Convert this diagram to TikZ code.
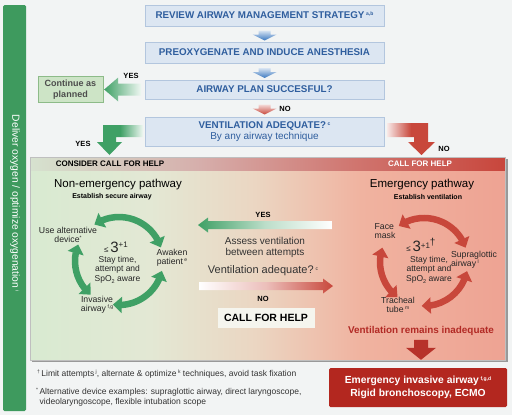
\documentclass[tikz,border=0pt]{standalone}
\usepackage{fontspec}
\setmainfont{Liberation Sans}
\usetikzlibrary{arrows.meta,bending,calc}
\newcommand\fz[2]{\fontsize{#1}{#2}\selectfont}
\newcommand\fsup[1]{\raisebox{0.6ex}{\fz{5}{5}#1}}
\newcommand\sbtwo{\raisebox{-0.45ex}{\fz{5.5}{5}2}}
\definecolor{bgc}{HTML}{F2F4F4}
\definecolor{boxfill}{HTML}{DCE6F2}
\definecolor{boxdraw}{HTML}{B3C6DE}
\definecolor{boxtext}{HTML}{2F5E9E}
\definecolor{barg}{HTML}{3E9A5E}
\definecolor{contfill}{HTML}{CDE4C6}
\definecolor{contdraw}{HTML}{8DBB88}
\definecolor{conttext}{HTML}{4D4D4D}
\definecolor{gArr}{HTML}{3FA065}
\definecolor{rArr}{HTML}{C8473B}
\definecolor{chevB}{HTML}{3A78C0}
\definecolor{emerg}{HTML}{B3271F}
\definecolor{txtd}{HTML}{333333}
\definecolor{lbltxt}{HTML}{262626}
\definecolor{redtxt}{HTML}{B22A25}
\definecolor{pg1}{HTML}{D8EAD1}
\definecolor{pg2}{HTML}{E3E8D4}
\definecolor{pg3}{HTML}{EBD6C2}
\definecolor{pg4}{HTML}{F0B3A0}
\definecolor{pg5}{HTML}{EEA393}
\definecolor{hd1}{HTML}{D6E2CF}
\definecolor{hd3}{HTML}{D6AEAB}
\definecolor{hd4}{HTML}{D07670}
\definecolor{hd5}{HTML}{C8463C}
\definecolor{cfhfill}{HTML}{F5F5EE}
\begin{document}
\begin{tikzpicture}[x=1pt,y=-1pt,
  topbox/.style={draw=boxdraw, fill=boxfill, minimum width=239, minimum height=21,
    inner sep=0pt, font=\fz{9.8}{11}\bfseries, text=boxtext},
  lbl/.style={inner sep=0pt, align=center, font=\fz{8.7}{8.7}, text=lbltxt},
  yesno/.style={inner sep=0pt, font=\fz{7.5}{8}\bfseries, text=black},
  garc/.style={draw=gArr, line width=6.5pt, {Triangle[width=16pt,length=9pt]}-{Triangle[width=16pt,length=9pt]}},
  rarc/.style={draw=rArr, line width=6.5pt, {Triangle[width=16pt,length=9pt]}-{Triangle[width=16pt,length=9pt]}}
]
\useasboundingbox (0,0) rectangle (512,415);
\fill[bgc] (0,0) rectangle (512,415);

% left green bar
\fill[barg, rounded corners=1.5pt] (3,5) rectangle (26,411);
\node[rotate=-90, text=white, font=\fz{10.3}{12}, inner sep=0pt] (deliver) at (15,203) {Deliver oxygen / optimize oxygenation\,\fsup{i}};

% top boxes
\node[topbox] (rev) at (264.5,15.5) {REVIEW AIRWAY MANAGEMENT STRATEGY\,\fsup{a,b}};
\node[topbox] (pre) at (264.5,52.5) {PREOXYGENATE AND INDUCE ANESTHESIA};
\node[topbox, minimum height=19] (plan) at (264.5,89.5) {AIRWAY PLAN SUCCESFUL?};
\node[topbox, minimum height=29, align=center] (vent) at (264.5,131.5)
  {VENTILATION ADEQUATE?\,\fsup{c}\\[0.5pt]{\fz{10}{11}\mdseries By any airway technique}};
\node[draw=contdraw, fill=contfill, minimum width=65, minimum height=26, inner sep=0pt,
  align=center, font=\fz{9}{10.5}\bfseries, text=conttext] (cont) at (70.5,89.5) {Continue as\\planned};

% chevrons
\coordinate (c1) at ($(rev.south)!0.5!(pre.north)+(0,1.5)$);
\coordinate (c2) at ($(pre.south)!0.5!(plan.north)+(0,1.5)$);
\coordinate (c3) at ($(plan.south)!0.5!(vent.north)+(0,1.5)$);
\shade[top color=chevB!20, bottom color=chevB] ($(c1)+(-6,-5)$) -- ($(c1)+(6,-5)$) -- ($(c1)+(6,-1)$) -- ($(c1)+(12,-1)$) -- ($(c1)+(0,5)$) -- ($(c1)+(-12,-1)$) -- ($(c1)+(-6,-1)$) -- cycle;
\shade[top color=chevB!20, bottom color=chevB] ($(c2)+(-6,-5)$) -- ($(c2)+(6,-5)$) -- ($(c2)+(6,-1)$) -- ($(c2)+(12,-1)$) -- ($(c2)+(0,5)$) -- ($(c2)+(-12,-1)$) -- ($(c2)+(-6,-1)$) -- cycle;
\shade[top color=rArr!20, bottom color=rArr] ($(c3)+(-6,-5)$) -- ($(c3)+(6,-5)$) -- ($(c3)+(6,-1)$) -- ($(c3)+(12,-1)$) -- ($(c3)+(0,5)$) -- ($(c3)+(-12,-1)$) -- ($(c3)+(-6,-1)$) -- cycle;
\node[yesno] (no1) at (285,109) {NO};

% plan -> continue arrow
\coordinate (t1) at ($(cont.east)+(1,0)$);
\shade[left color=gArr, right color=gArr!8] (t1) -- ++(14,-12) -- ++(0,6) -- ++(23,0) -- ++(0,12) -- ++(-23,0) -- ++(0,6) -- cycle;
\node[yesno] (yes1) at (131,76) {YES};

% elbow arrows
\shade[left color=gArr, right color=gArr!8, middle color=gArr] (143,125) -- (103,125) -- (103,142) -- (97,142) -- (109.5,155) -- (122,142) -- (116,142) -- (116,137) -- (143,137) -- cycle;
\node[yesno] (yes2) at (83,144) {YES};
\shade[left color=rArr!12, right color=rArr, middle color=rArr] (387,123) -- (428,123) -- (428,142) -- (435,142) -- (421.5,155) -- (408,142) -- (414,142) -- (414,137) -- (387,137) -- cycle;
\node[yesno] (no2) at (444,149) {NO};

% panel
\fill[black!40] (32,159) rectangle (507.5,362);
\shade[left color=pg1, right color=pg2] (30,170) rectangle (150.5,360);
\shade[left color=pg2, right color=pg4, middle color=pg3] (150,170) rectangle (360.5,360);
\shade[left color=pg4, right color=pg5] (360,170) rectangle (505,360);
\shade[left color=hd1, right color=hd3] (30,157) rectangle (200.5,170);
\shade[left color=hd3, right color=hd5, middle color=hd4] (200,157) rectangle (505,170);
\draw[black!25, line width=0.6pt] (30,157) rectangle (505,360);
\node[font=\fz{8}{9}\bfseries, inner sep=0pt] (cch) at (110,164) {CONSIDER CALL FOR HELP};
\node[font=\fz{8}{9}\bfseries, text=white, inner sep=0pt] (cfhr) at (420,164) {CALL FOR HELP};

% non-emergency pathway
\node[font=\fz{11.5}{13}, inner sep=0pt] (net) at (118,185) {Non-emergency pathway};
\node[font=\fz{7}{8}\bfseries, inner sep=0pt] (nes) at (112,197) {Establish secure airway};
\coordinate (gc) at (119,261);
\draw[garc] (gc) ++(-124:44) arc[start angle=-124, end angle=-18, radius=44];
\draw[garc] (gc) ++(-158:44) arc[start angle=-158, end angle=-230, radius=44];
\draw[garc] (gc) ++(-262:44) arc[start angle=-262, end angle=-347, radius=44];
\node[lbl] (alt) at (68,235) {Use alternative\\device\fsup{*}};
\node[lbl] (awk) at (172,258) {Awaken\\patient\,\fsup{e}};
\node[lbl] (inv) at (97,305) {Invasive\\airway\,\fsup{f,g}};
\node[inner sep=0pt, text=lbltxt] (glim) at (116,247) {{\fz{8}{8}≤}\,{\fz{15}{15}3}\raisebox{5pt}{\fz{8}{8}+1}};
\node[lbl, font=\fz{8.5}{9.5}] (gst) at (117.5,269.5) {Stay time,\\attempt and\\SpO\sbtwo{} aware};

% emergency pathway
\node[font=\fz{11.5}{13}, inner sep=0pt] (emt) at (422,185) {Emergency pathway};
\node[font=\fz{7}{8}\bfseries, inner sep=0pt] (ems) at (428,197) {Establish ventilation};
\coordinate (rc) at (424,262);
\draw[rarc] (rc) ++(-125:44) arc[start angle=-125, end angle=-19, radius=44];
\draw[rarc] (rc) ++(-161:44) arc[start angle=-161, end angle=-233, radius=44];
\draw[rarc] (rc) ++(-267:44) arc[start angle=-267, end angle=-348, radius=44];
\node[lbl, align=left] (fm) at (385,231) {Face\\mask};
\node[lbl, align=left] (sga) at (474,260) {Supraglottic\\airway\,\fsup{l}};
\node[lbl] (tt) at (398,305) {Tracheal\\tube\,\fsup{m}};
\node[inner sep=0pt, text=lbltxt] (rlim) at (421,245) {{\fz{8}{8}≤}\,{\fz{15}{15}3}\raisebox{3pt}{\fz{8}{8}+1}\raisebox{6pt}{\fz{10}{10}†}};
\node[lbl, font=\fz{8.5}{9.5}] (rst) at (429,269.5) {Stay time,\\attempt and\\SpO\sbtwo{} aware};

% middle column
\node[yesno] (myes) at (263,215) {YES};
\coordinate (gt) at (198,225);
\shade[left color=gArr, right color=white, middle color=gArr!35!white] (gt) -- ++(10,-7.5) -- ++(0,3.5) -- ++(124,0) -- ++(0,8) -- ++(-124,0) -- ++(0,3.5) -- cycle;
\node[inner sep=0pt, align=center, font=\fz{10}{10.5}, text=txtd] (assess) at (265,247.5) {Assess ventilation\\between attempts};
\node[inner sep=0pt, font=\fz{11}{12}, text=txtd] (vadq) at (263,271) {Ventilation adequate?\,\fsup{c}};
\coordinate (rt) at (333,286);
\shade[left color=white, right color=rArr, middle color=rArr!35!white] (rt) -- ++(-10,-7.5) -- ++(0,3.5) -- ++(-124,0) -- ++(0,8) -- ++(124,0) -- ++(0,3.5) -- cycle;
\node[yesno] (mno) at (263,299) {NO};
\node[fill=cfhfill, minimum width=97, minimum height=20, inner sep=0pt, font=\fz{10.5}{12}\bfseries] (cfh) at (266,318) {CALL FOR HELP};

% ventilation remains inadequate
\node[inner sep=0pt, font=\fz{9.9}{11}\bfseries, text=redtxt] (vri) at (421,331) {Ventilation remains inadequate};
\coordinate (da) at ($(vri.south)+(0,24)$);
\fill[emerg!95!white] (da) -- ++(-15,-12) -- ++(8,0) -- ++(0,-8) -- ++(14,0) -- ++(0,8) -- ++(8,0) -- cycle;

% emergency invasive airway box
\node[fill=emerg, rounded corners=1.5pt, minimum width=178, minimum height=39, inner sep=0pt,
  text=white, font=\fz{10.3}{13}\bfseries, align=center] (eia) at (418,387.5)
  {Emergency invasive airway\,\fsup{f,g,d}\\Rigid bronchoscopy, ECMO};

% footnotes
\node[anchor=west, inner sep=0pt, font=\fz{8.5}{10}, text=txtd] (fn1) at (37,374)
  {\fsup{†}\,Limit attempts\,\fsup{j}, alternate \& optimize\,\fsup{k} techniques, avoid task fixation};
\node[anchor=north west, align=left, inner sep=0pt, font=\fz{8.5}{10}, text=txtd] (fn2) at (36,388)
  {\fsup{*}\,Alternative device examples: supraglottic airway, direct laryngoscope,\\\hspace*{3.5pt}videolaryngoscope, flexible intubation scope};
\end{tikzpicture}
\end{document}
